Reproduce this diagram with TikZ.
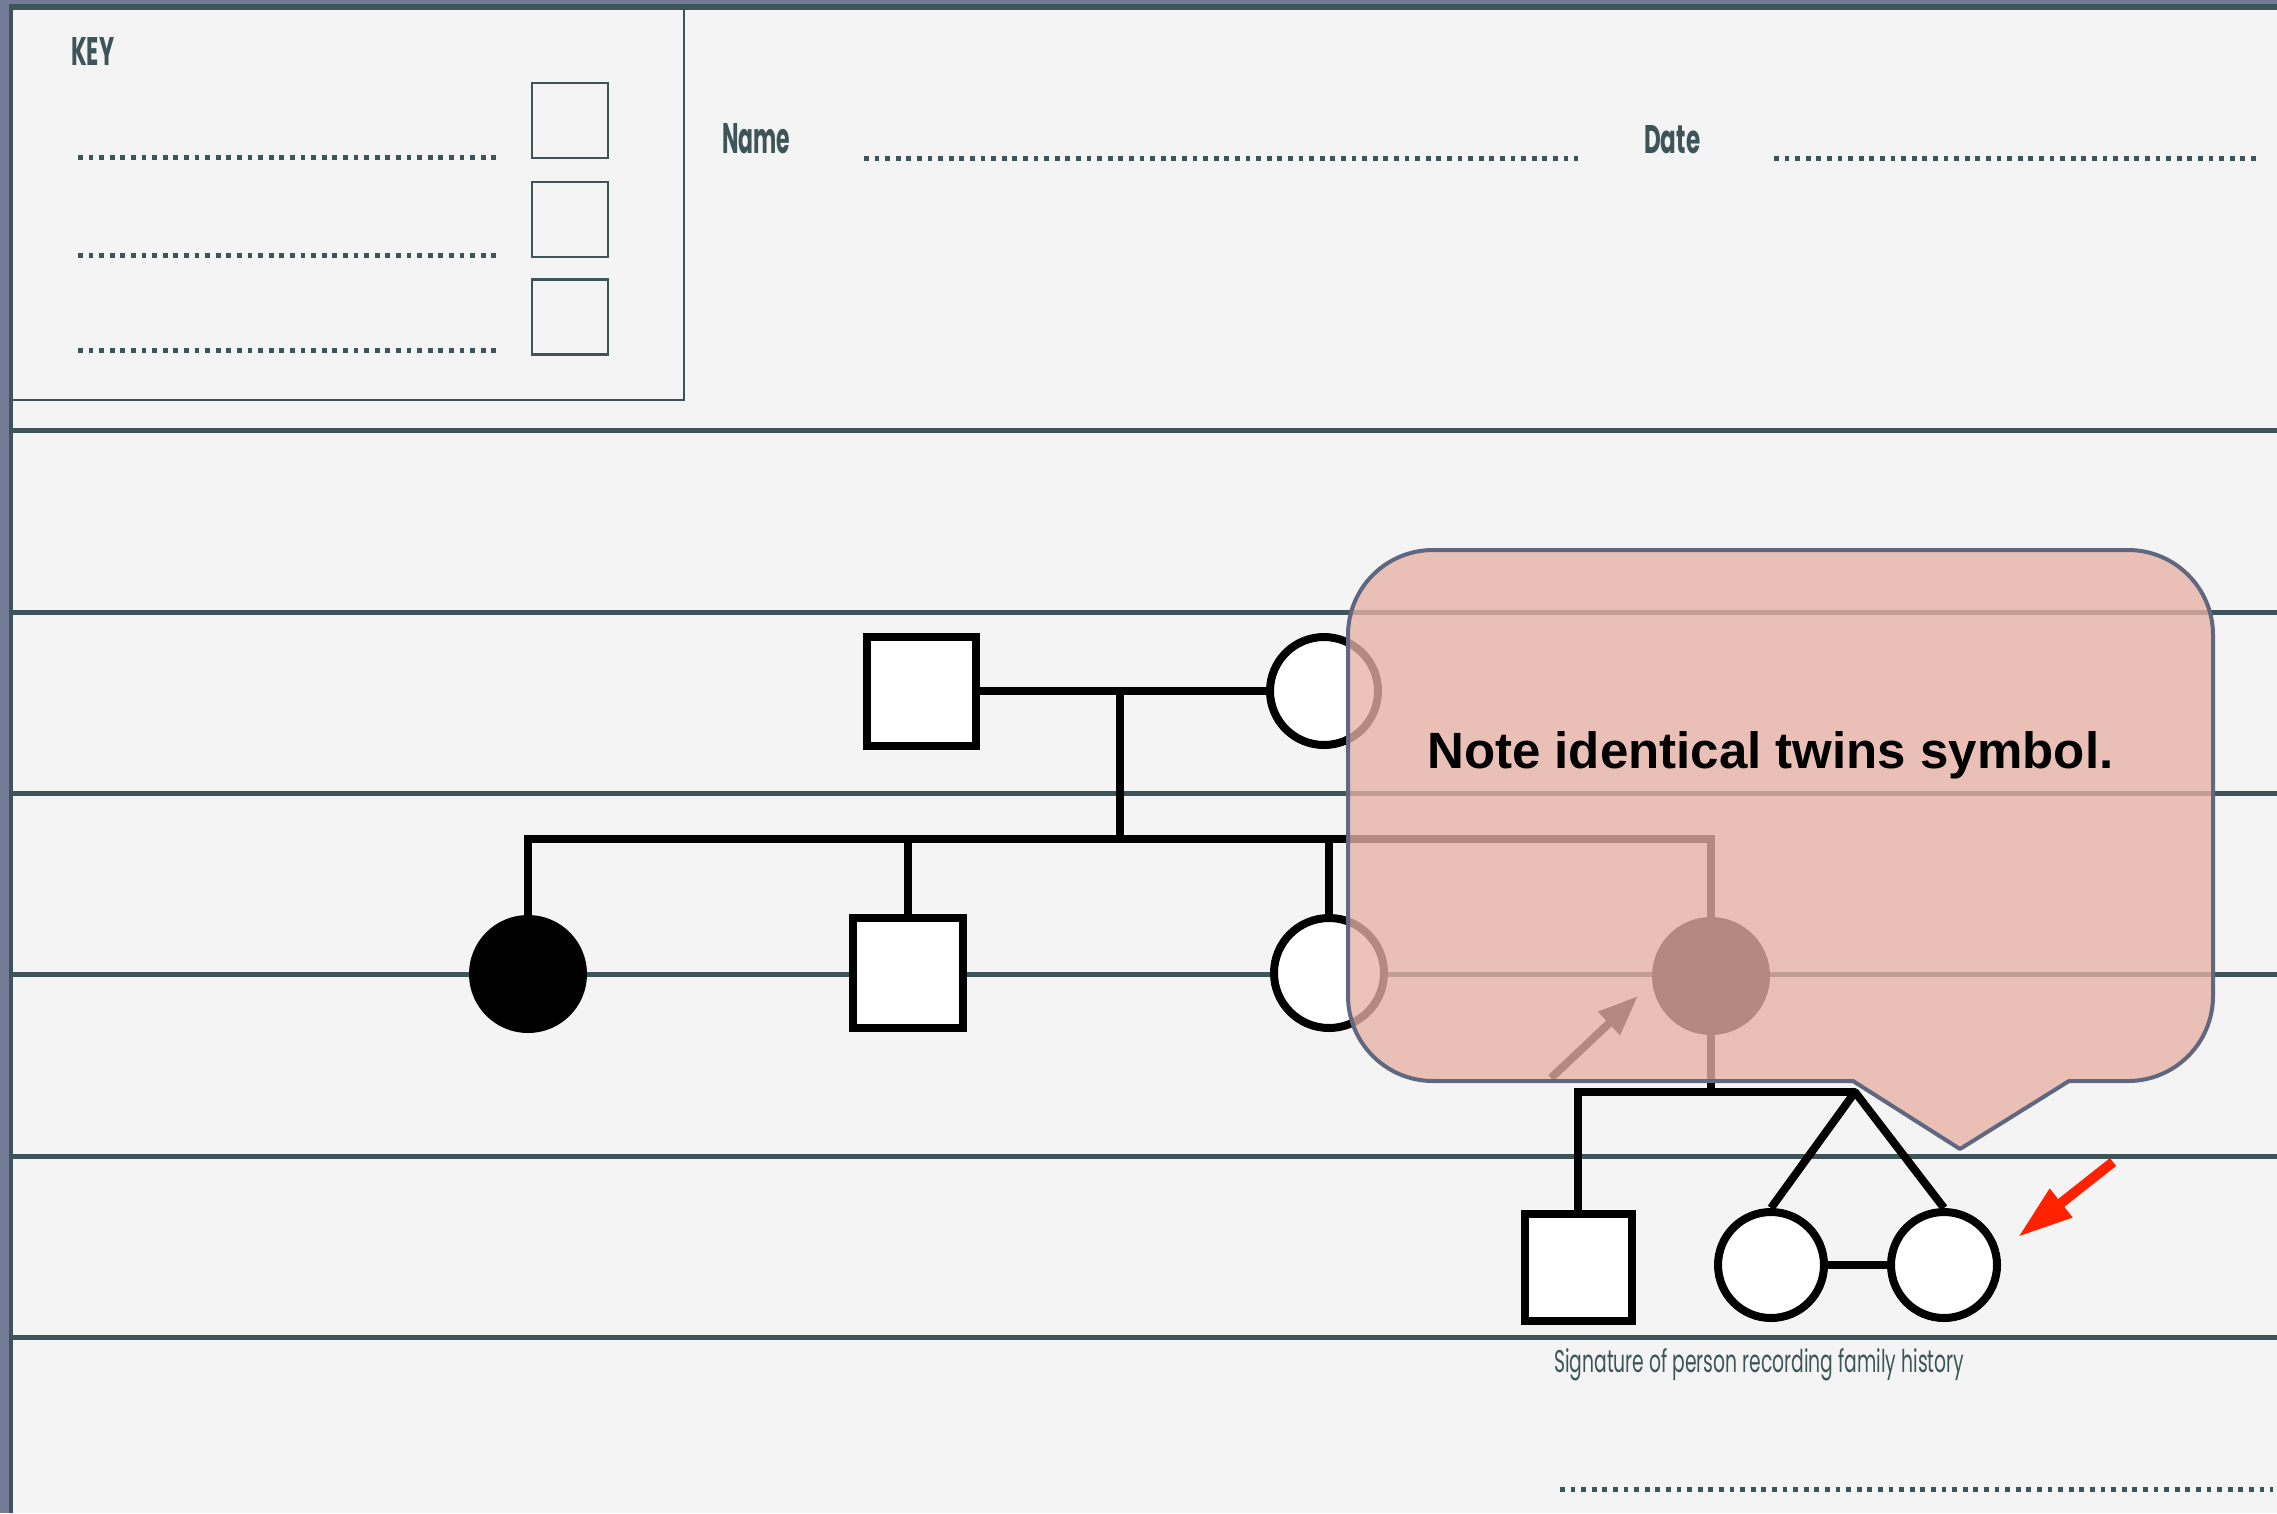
\documentclass[tikz,border=0pt]{standalone}
\usepackage{fontspec}
\usepackage{graphicx}
\usetikzlibrary{arrows.meta}
\newfontfamily\condf{Poppins}
\newfontfamily\notef{Liberation Sans}
\definecolor{bgC}{HTML}{F4F4F4}
\definecolor{frameC}{HTML}{737B96}
\definecolor{ruleC}{HTML}{3D5558}
\definecolor{calloutC}{HTML}{E8B2A5}
\definecolor{calloutEdge}{HTML}{5F6880}
\definecolor{redC}{HTML}{FF2200}
\newcommand{\lbl}[3]{\resizebox{#1}{#2}{\condf\bfseries #3}}
\begin{document}
\begin{tikzpicture}[x=1pt,y=-1pt,
  rule/.style={draw=ruleC, line width=5pt},
  dotline/.style={draw=ruleC, line width=5pt, dash pattern=on 4.8pt off 5.8pt},
  keysq/.style={draw=ruleC, line width=2.5pt, minimum width=76pt, minimum height=75pt, inner sep=0pt},
  label/.style={anchor=base west, inner sep=0pt, text=ruleC},
  malesq/.style={draw=black, line width=8pt, fill=white, minimum size=110pt, inner sep=0pt},
  femcirc/.style={circle, draw=black, line width=8pt, fill=white, minimum size=110pt, inner sep=0pt},
  affcirc/.style={circle, draw=black, line width=8pt, fill=black, minimum size=110pt, inner sep=0pt},
  ped/.style={draw=black, line width=8pt},
  callout/.style={draw=calloutEdge, line width=4pt, fill=calloutC, fill opacity=0.775, line join=round},
  redarrow/.style={draw=redC, line width=10pt, -{Triangle[length=55pt,width=34pt]}},
  greyarrow/.style={draw=black, line width=8pt, -{Triangle[length=40pt,width=30pt]}}]
\useasboundingbox (0,0) rectangle (2277,1513);
% background and frame
\fill[bgC] (0,0) rectangle (2277,1513);
\fill[frameC] (0,0) rectangle (8.5,1513);
\fill[frameC] (0,0) rectangle (2277,4);
\fill[ruleC] (8.5,4) rectangle (13.3,1513);
\fill[ruleC] (8.5,4) rectangle (2277,10);
% key box
\draw[ruleC, line width=2.5pt] (12,9) rectangle (684,400);
\node[label] (keylbl) at (71,65) {\lbl{43pt}{28pt}{KEY}};
\draw[dotline] (78,157) -- (501,157);
\draw[dotline] (78,255) -- (501,255);
\draw[dotline] (78,350) -- (501,350);
\node[keysq] (k1) at (570,120.5) {};
\node[keysq] (k2) at (570,219.5) {};
\node[keysq] (k3) at (570,317) {};
% name and date
\node[label] (namelbl) at (722,153) {\lbl{68pt}{30pt}{Name}};
\draw[dotline] (864,158) -- (1578,158);
\node[label] (datelbl) at (1644,153) {\lbl{56pt}{28pt}{Date}};
\draw[dotline] (1774,158) -- (2258,158);
% ruled lines
\foreach \yy in {430,612,793,974,1156,1337} \draw[rule] (13,\yy) -- (2277,\yy);
% pedigree
\node[malesq, minimum size=109pt] (gf) at (921,691) {};
\node[femcirc, minimum size=108pt] (gm) at (1324,691) {};
\node[affcirc, minimum size=110pt] (c1) at (528,974) {};
\node[malesq, minimum size=110pt] (c2) at (907.5,972.5) {};
\node[femcirc, minimum size=110pt] (c3) at (1329,973) {};
\node[affcirc, minimum size=110pt] (c4) at (1711,976) {};
\node[malesq, minimum size=107pt] (s1) at (1578,1267) {};
\node[femcirc, minimum size=106pt] (t1) at (1771,1265) {};
\node[femcirc, minimum size=106pt] (t2) at (1944,1265) {};
\coordinate (mg) at (1120,691);
\coordinate (sib) at (1120,839);
\coordinate (low) at (1713,1092);
\coordinate (apex) at (1855,1092);
\draw[ped] (gf.east) -- (gm.west);
\draw[ped] (mg) -- (sib);
\draw[ped] (c1.north) -- (c1.north |- sib) -- (c4.north |- sib) -- (c4.north);
\draw[ped] (c2.north) -- (c2.north |- sib);
\draw[ped] (c3.north) -- (c3.north |- sib);
\draw[ped] (c4.south) -- (c4.south |- low);
\draw[ped] (s1.north) |- (apex);
\draw[ped, line join=round] (t1.north) -- (apex) -- (t2.north);
\draw[ped] (t1.east) -- (t2.west);
% arrow under the callout
\coordinate (gtail) at (1551,1078);
\coordinate (gtip) at (1638,996);
\draw[greyarrow] (gtail) -- (gtip);
% callout
\draw[callout] (1433,550) -- (2128,550) arc[start angle=-90,end angle=0,radius=85]
  -- (2213,996) arc[start angle=0,end angle=90,radius=85]
  -- (2069,1081) -- (1960,1149) -- (1853,1081) -- (1433,1081)
  arc[start angle=90,end angle=180,radius=85]
  -- (1348,635) arc[start angle=180,end angle=270,radius=85] -- cycle;
\node[anchor=base west, inner sep=0pt, text=black] (note) at (1427,768)
  {\resizebox{686pt}{!}{\notef\bfseries Note identical twins symbol.}};
% red arrow
\coordinate (rtail) at (2113,1162);
\coordinate (rtip) at (2018,1237);
\draw[redarrow] (rtail) -- (rtip);
% signature
\node[label] (sig) at (1554,1372) {\resizebox{410pt}{24pt}{\condf Signature\ of\ person\ recording\ family\ history}};
\draw[dotline] (1560,1489) -- (2273,1489);
\end{tikzpicture}
\end{document}
